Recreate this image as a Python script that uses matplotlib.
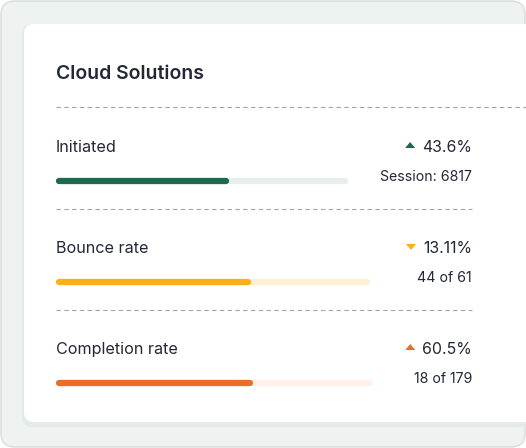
import matplotlib.pyplot as plt
from matplotlib.patches import FancyBboxPatch, Polygon

title = "Cloud Solutions"
labels = ["Initiated", "Bounce rate", "Completion rate"]
changes = ["43.6%", "13.11%", "60.5%"]
directions = ["up", "down", "up"]
details = ["Session: 6817", "44 of 61", "18 of 179"]
bar_values = [173, 195, 197]
bar_totals = [292, 314, 317]
colors = ["#1b6b50", "#fbb016", "#ec6d2a"]
tracks = ["#e8eeec", "#fff0d4", "#fff0ec"]

plt.rcParams['font.family'] = ['Inter', 'DejaVu Sans']
txt = "#222836"

fig = plt.figure(figsize=(5.26, 4.48), dpi=100)
ax = fig.add_axes([0, 0, 1, 1])
ax.set_xlim(0, 526)
ax.set_ylim(448, 0)
ax.axis('off')
r = fig.canvas.get_renderer()

# outer panel
ax.add_patch(FancyBboxPatch((1, 1), 524, 446, boxstyle="round,pad=0,rounding_size=14",
                            fc="#eef3f2", ec="#d9e1df", lw=1.2))
# card shadow + card
ax.add_patch(FancyBboxPatch((22, 24), 520, 403, boxstyle="round,pad=0,rounding_size=10",
                            fc="#e3eae8", ec="none"))
ax.add_patch(FancyBboxPatch((24, 24), 520, 398, boxstyle="round,pad=0,rounding_size=10",
                            fc="white", ec="none"))

ax.text(56, 74, title, fontsize=14, fontweight='semibold', color=txt, va='center', ha='left')
ax.plot([56, 526], [107, 107], ls=(0, (4, 3)), color="#a0a5aa", lw=0.8)

x0 = 56
right = 472
cap = 3
for i in range(3):
    y = 146 + i * 101
    by = y + 35
    ax.text(x0, y + 1.5, labels[i], fontsize=11.6, color=txt, va='center', ha='left')
    t = ax.text(right, y + 1.5, changes[i], fontsize=11.4, color=txt, va='center', ha='right')
    w = t.get_window_extent(r).width
    tx = right - w - 12
    if directions[i] == "up":
        pts = [(tx - 5, y + 2), (tx + 5, y + 2), (tx, y - 4)]
    else:
        pts = [(tx - 5, y - 3), (tx + 5, y - 3), (tx, y + 3)]
    ax.add_patch(Polygon(pts, closed=True, fc=colors[i], ec='none'))
    ax.text(right, by - 4, details[i], fontsize=10.2, color=txt, va='center', ha='right')
    ax.plot([x0 + cap, x0 + bar_totals[i] - cap], [by, by], color=tracks[i], lw=4.5,
            solid_capstyle='round')
    ax.plot([x0 + cap, x0 + bar_values[i] - cap], [by, by], color=colors[i], lw=4.5,
            solid_capstyle='round')
    if i < 2:
        ax.plot([56, 472], [y + 63, y + 63], ls=(0, (4, 3)), color="#a0a5aa", lw=0.8)

fig.savefig("out.png", dpi=100)
